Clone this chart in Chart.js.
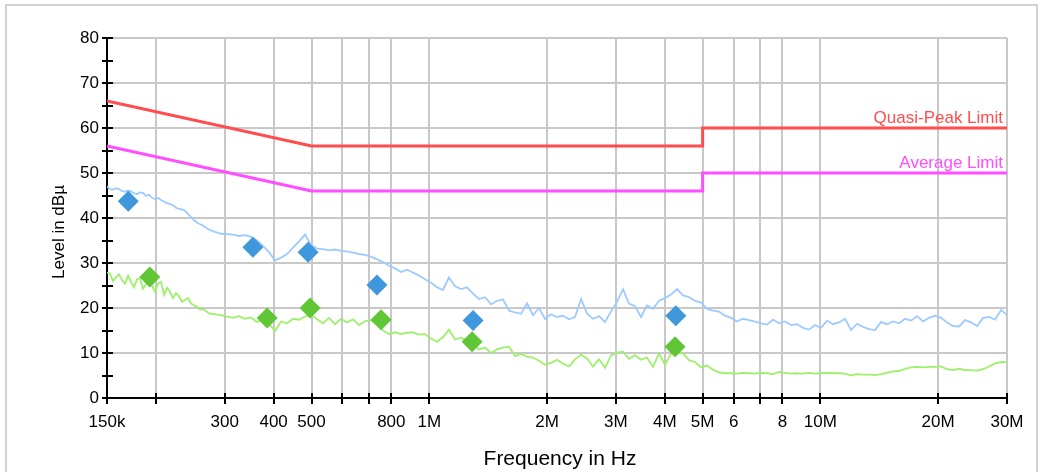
<!DOCTYPE html>
<html>
<head>
<meta charset="utf-8">
<script src="https://cdn.jsdelivr.net/npm/chart.js@4.4.1/dist/chart.umd.min.js"></script>
<style>
  html, body { margin: 0; padding: 0; background: #fff; }
  body { width: 1043px; height: 472px; position: relative; overflow: hidden; }
  #frame { position: absolute; left: 5px; top: 4px; width: 1033px; height: 490px; border: 2px solid #d2d2d2; box-sizing: border-box; }
  #wrap { position: absolute; left: 0; top: 0; width: 1043px; height: 472px; }
</style>
</head>
<body>
<div id="frame"></div>
<div id="wrap"><canvas id="emiChart"></canvas></div>
<script>
// scan frequencies in kHz (log sweep 150 kHz .. 30 MHz)
const scanFreqKHz = [
  150, 152.7, 155.4, 158.2, 161.0, 163.9, 166.8, 169.8, 172.8, 175.9,
  179.0, 182.2, 185.4, 188.7, 192.1, 195.5, 199.0, 202.5, 206.2, 209.9,
  213.6, 217.4, 221.2, 225.1, 229.2, 233.3, 237.4, 241.6, 246.0, 250.4,
  254.8, 259.4, 264.0,
  273.5, 283.3, 293.5,
  304.1, 315.0, 326.3, 338.0, 350.2, 362.8, 375.8, 389.3, 403.3, 417.9,
  432.9, 448.5, 464.6, 481.3, 498.6, 516.6, 535.2, 554.4, 574.4, 595.0,
  616.4, 638.4, 661.4, 685.2, 709.8, 735.4, 761.8, 789.2, 817.6, 847.0,
  877.4, 908.8, 941.5, 975.4, 1010, 1047, 1084, 1123, 1164, 1206,
  1249, 1294, 1340, 1389, 1439, 1490, 1544, 1600, 1657, 1717,
  1778, 1842, 1908, 1977, 2048, 2122, 2198, 2277, 2359, 2444,
  2531, 2622, 2716, 2814, 2915, 3020, 3129, 3241, 3358, 3479,
  3603, 3733, 3867, 4006, 4150, 4300, 4454, 4615, 4781, 4953,
  5129, 5314, 5505, 5703, 5909, 6121, 6341, 6569, 6806, 7050,
  7303, 7567, 7839, 8121, 8413, 8715, 9029, 9354, 9690, 10040,
  10400, 10770, 11160, 11560, 11980, 12410, 12850, 13320, 13800, 14290,
  14800, 15340, 15890, 16460, 17060, 17670, 18300, 18960, 19650, 20350,
  21080, 21840, 22630, 23440, 24280, 25160, 26060, 27000, 27970, 28980,
  30000
];

// peak detector scan (dBµV)
const peakScan = [
  47.0, 46.4, 46.3, 46.6, 46.4, 46.0, 45.8, 46.1, 45.9, 45.5,
  45.3, 45.7, 45.6, 44.9, 45.2, 44.5, 44.2, 44.5, 44.0, 43.6,
  43.3, 43.1, 42.8, 42.3, 42.0, 41.9, 41.6, 40.9, 40.2, 39.5,
  39.0, 38.6, 38.3,
  37.4, 36.9, 36.5,
  36.4, 36.3, 36.0, 36.2, 35.8, 35.0, 33.8, 32.4, 30.6, 31.2,
  32.0, 33.4, 34.8, 36.3, 34.0, 33.2, 33.1, 32.8, 33.0, 32.7,
  32.6, 32.3, 32.0, 31.8, 31.4, 30.8, 30.2, 29.4, 28.8, 28.0,
  28.5, 27.9, 27.2, 26.4, 25.6, 24.6, 24.0, 26.8, 24.8, 24.2,
  24.6, 23.2, 22.0, 22.4, 20.8, 21.6, 21.9, 19.4, 19.0, 18.7,
  21.0, 18.4, 20.0, 17.6, 18.6, 18.0, 18.3, 17.5, 18.0, 22.0,
  18.8, 17.6, 18.2, 16.9, 19.2, 21.4, 24.2, 21.0, 20.4, 18.0,
  20.6, 19.8, 21.6, 22.2, 23.0, 24.2, 22.8, 22.4, 21.6, 21.2,
  19.8, 19.4, 19.2, 18.3, 17.8, 17.0, 17.6, 17.3, 17.0, 16.6,
  16.3, 17.4, 16.6, 17.0, 16.2, 16.4, 15.6, 15.2, 16.2, 15.6,
  17.2, 16.4, 16.8, 17.6, 15.1, 16.5, 15.8, 15.3, 15.1, 16.9,
  16.4, 17.0, 16.6, 17.6, 17.2, 18.2, 17.0, 17.8, 18.3, 17.8,
  16.8, 16.0, 15.9, 17.3, 16.8, 16.0, 17.8, 18.0, 17.4, 19.6,
  18.4
];

// average detector scan (dBµV)
const avgScan = [
  27.9, 27.6, 26.0, 26.8, 27.5, 26.2, 25.4, 27.2, 25.8, 24.6,
  26.4, 26.6, 24.3, 25.2, 26.2, 25.0, 23.6, 25.4, 25.8, 22.9,
  24.5, 23.6, 22.2, 23.3, 22.6, 21.4, 21.8, 22.2, 21.0, 20.6,
  20.3, 19.6, 19.8,
  18.8, 18.6, 18.4,
  18.1, 17.8, 18.2, 17.6, 17.9, 16.9, 17.4, 16.5, 14.9, 17.0,
  16.6, 17.6, 17.4, 18.1, 18.6, 17.5, 16.6, 17.8, 16.4, 17.6,
  16.8, 17.5, 16.2, 17.1, 17.3, 16.2, 15.0, 14.2, 14.6, 14.2,
  14.5, 14.6, 14.1, 14.2, 13.2, 12.5, 13.5, 15.2, 13.0, 13.4,
  12.8, 12.0, 10.8, 11.2, 10.0, 10.8, 11.2, 11.4, 9.3, 9.8,
  9.2, 9.0, 8.3, 7.4, 7.8, 8.5, 7.6, 7.0, 8.6, 9.6,
  8.8, 7.0, 8.6, 6.7, 9.4, 10.1, 10.3, 8.7, 9.5, 8.5,
  9.0, 6.9, 9.9, 7.4, 9.8, 10.2, 9.9, 8.4, 8.0, 6.8,
  7.2, 6.3, 5.7, 5.5, 5.5, 5.4, 5.6, 5.5, 5.4, 5.6,
  5.5, 5.3, 5.8, 5.6, 5.4, 5.5, 5.4, 5.6, 5.4, 5.5,
  5.6, 5.5, 5.5, 5.4, 5.0, 5.3, 5.2, 5.2, 5.1, 5.3,
  5.6, 5.9, 6.0, 6.5, 6.8, 6.9, 6.8, 6.9, 6.9, 7.0,
  6.4, 6.2, 6.5, 6.2, 6.2, 6.1, 6.4, 7.0, 7.7, 8.0,
  7.9
];

// limit lines (EN 55022 class B style)
const qpLimitFreqKHz = [150, 500, 5000, 5000, 30000];
const qpLimitLevel = [66, 56, 56, 60, 60];
const avLimitFreqKHz = [150, 500, 5000, 5000, 30000];
const avLimitLevel = [56, 46, 46, 50, 50];

// final measurement markers
const qpMarkerFreqKHz = [170, 354, 490, 735, 1294, 4270];
const qpMarkerLevel = [43.7, 33.5, 32.4, 25.1, 17.2, 18.3];
const avMarkerFreqKHz = [193, 385, 496, 753, 1287, 4250];
const avMarkerLevel = [26.9, 17.8, 20.0, 17.4, 12.5, 11.4];

// axis ticks
const xTickKHz = [150, 200, 300, 400, 500, 600, 700, 800, 1000, 2000, 3000, 4000, 5000, 6000, 7000, 8000, 10000, 20000, 30000];
const xTickLabels = ['150k', '', '300', '400', '500', '', '', '800', '1M', '2M', '3M', '4M', '5M', '6', '', '8', '10M', '20M', '30M'];
const yMin = 0, yMax = 80, yStep = 5;

const FONT = '"Liberation Sans", Arial, sans-serif';
const toXY = (fs, ls) => fs.map((f, i) => ({x: f * 1000, y: ls[i]}));

const overlayPlugin = {
    id: 'overlay',
    afterDraw(chart) {
        const {ctx, chartArea, scales: {x, y}} = chart;
        ctx.save();
        // tick marks crossing the axes
        ctx.strokeStyle = '#000';
        ctx.lineWidth = 2;
        ctx.beginPath();
        xTickKHz.forEach(v => {
            const px = Math.round(x.getPixelForValue(v * 1000));
            ctx.moveTo(px, chartArea.bottom - 5);
            ctx.lineTo(px, chartArea.bottom + 6);
        });
        for (let v = yMin; v <= yMax; v += yStep) {
            const py = Math.round(y.getPixelForValue(v));
            ctx.moveTo(chartArea.left - 5, py);
            ctx.lineTo(chartArea.left + 6, py);
        }
        ctx.stroke();

        // limit names
        ctx.font = '17px ' + FONT;
        ctx.textAlign = 'right';
        ctx.textBaseline = 'alphabetic';
        const xr = x.getPixelForValue(30e6) - 4;
        ctx.fillStyle = '#ff4d4d';
        ctx.fillText('Quasi-Peak Limit', xr, y.getPixelForValue(60) - 5);
        ctx.fillStyle = '#ff4dff';
        ctx.fillText('Average Limit', xr, y.getPixelForValue(50) - 5);

        // axis titles
        ctx.fillStyle = '#000';
        ctx.textAlign = 'center';
        ctx.font = '21px ' + FONT;
        ctx.fillText('Frequency in Hz', 560, 465);
        ctx.translate(64, 232);
        ctx.rotate(-Math.PI / 2);
        ctx.font = '17px ' + FONT;
        ctx.fillText('Level in dBµ', 0, 0);
        ctx.restore();
    }
};

new Chart(document.getElementById('emiChart'), {
    type: 'scatter',
    data: {
        datasets: [{
            label: 'QP markers',
            data: toXY(qpMarkerFreqKHz, qpMarkerLevel),
            pointStyle: 'rectRot',
            pointRadius: 10.5,
            backgroundColor: '#3f98dc',
            borderWidth: 0,
            order: 0
        }, {
            label: 'AV markers',
            data: toXY(avMarkerFreqKHz, avMarkerLevel),
            pointStyle: 'rectRot',
            pointRadius: 10.5,
            backgroundColor: '#60c636',
            borderWidth: 0,
            order: 0
        }, {
            label: 'Quasi-Peak Limit',
            data: toXY(qpLimitFreqKHz, qpLimitLevel),
            showLine: true,
            borderColor: '#ff4d4d',
            borderWidth: 3,
            pointRadius: 0,
            order: 1
        }, {
            label: 'Average Limit',
            data: toXY(avLimitFreqKHz, avLimitLevel),
            showLine: true,
            borderColor: '#ff4dff',
            borderWidth: 3,
            pointRadius: 0,
            order: 1
        }, {
            label: 'Peak scan',
            data: toXY(scanFreqKHz, peakScan),
            showLine: true,
            borderColor: '#9ecbff',
            borderWidth: 1.8,
            pointRadius: 0,
            order: 2
        }, {
            label: 'Average scan',
            data: toXY(scanFreqKHz, avgScan),
            showLine: true,
            borderColor: '#9cf06a',
            borderWidth: 1.8,
            pointRadius: 0,
            order: 2
        }]
    },
    options: {
        responsive: true,
        maintainAspectRatio: false,
        animation: false,
        layout: {
            padding: {left: 0, right: 36, top: 38, bottom: 0}
        },
        plugins: {
            legend: {display: false},
            tooltip: {enabled: false}
        },
        scales: {
            x: {
                type: 'logarithmic',
                min: 150000,
                max: 30000000,
                afterBuildTicks: scale => {
                    scale.ticks = xTickKHz.map(v => ({value: v * 1000}));
                },
                afterFit: scale => { scale.height = 74; },
                grid: {color: '#c8c8c8', lineWidth: 2, drawTicks: false},
                border: {color: '#000', width: 2},
                ticks: {
                    autoSkip: false,
                    maxRotation: 0,
                    padding: 14,
                    color: '#000',
                    font: {family: FONT, size: 17},
                    callback: (value, index) => xTickLabels[index]
                }
            },
            y: {
                min: yMin,
                max: yMax,
                afterFit: scale => { scale.width = 107; },
                grid: {color: '#c8c8c8', lineWidth: 2, drawTicks: false},
                border: {color: '#000', width: 2},
                ticks: {
                    stepSize: yStep,
                    padding: 8,
                    color: '#000',
                    font: {family: FONT, size: 17},
                    callback: v => (v % 10 === 0 ? v : '')
                }
            }
        }
    },
    plugins: [overlayPlugin]
});
</script>
</body>
</html>
